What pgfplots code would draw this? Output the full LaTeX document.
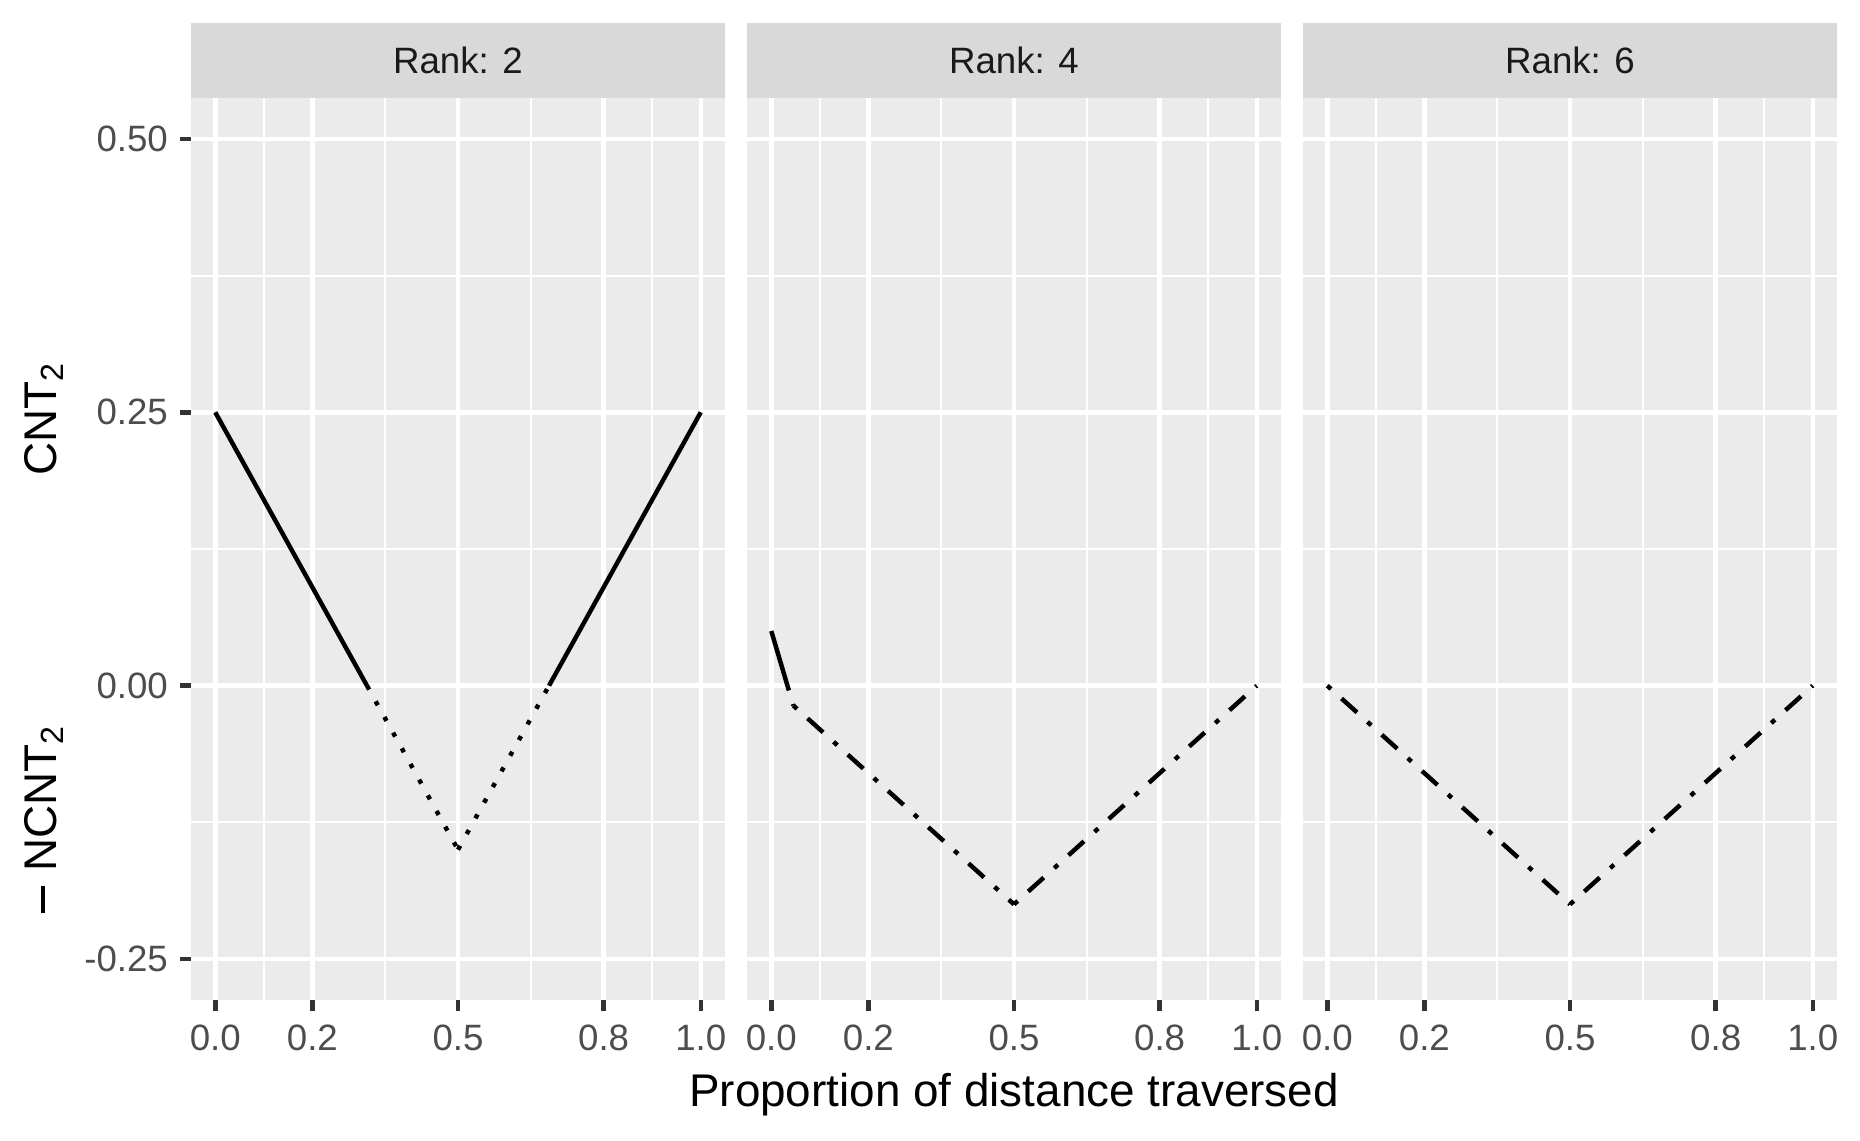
\documentclass[border=0pt]{standalone}
\usepackage{fontspec}
\setmainfont{Liberation Sans}
\usepackage{pgfplots}
\pgfplotsset{compat=1.18}
\definecolor{panelbg}{HTML}{EBEBEB}
\definecolor{stripbg}{HTML}{D9D9D9}
\definecolor{ticklab}{HTML}{4D4D4D}
\definecolor{tickcol}{HTML}{333333}
\definecolor{striptxt}{HTML}{1A1A1A}
\pgfplotsset{
  facet/.style={
    scale only axis, width=128.16pt, height=216.48pt, anchor=south west,
    xmin=-0.05, xmax=1.05, ymin=-0.2875, ymax=0.5375,
    axis background/.style={fill=panelbg},
    axis line style={draw=none},
    xtick={0,0.2,0.5,0.8,1}, xticklabels={0.0,0.2,0.5,0.8,1.0},
    minor xtick={0.1,0.35,0.65,0.9},
    ytick={-0.25,0,0.25,0.5}, yticklabels={-0.25,0.00,0.25,0.50},
    minor ytick={-0.125,0.125,0.375},
    grid=both,
    major grid style={white, line width=1.07pt},
    minor grid style={white, line width=0.53pt},
    tick align=outside, major tick length=2.75pt, minor tick length=0pt,
    tick style={tickcol, line width=1.07pt},
    tick pos=left,
    tick label style={font=\fontsize{8.8}{10}\selectfont, text=ticklab, inner sep=0pt},
    xticklabel style={anchor=north, yshift=-3pt},
    yticklabel style={anchor=east, xshift=-2.6pt},
  },
  solidl/.style={black, line width=1.07pt},
  dottedl/.style={black, line width=1.07pt, dash pattern=on 1.07pt off 3.23pt},
  dotdashl/.style={black, line width=1.07pt, dash pattern=on 1.2pt off 3.4pt on 5pt off 3.4pt},
}
\begin{document}
\begin{tikzpicture}
\useasboundingbox (0,0) rectangle (446.4pt,273.6pt);

% Panel 1: Rank 2
\begin{axis}[facet, at={(45.84pt,33.6pt)}]
\addplot[solidl] coordinates {(0,0.25) (0.3125,0)};
\addplot[dottedl] coordinates {(0.3125,0) (0.5,-0.15)};
\addplot[dottedl] coordinates {(0.5,-0.15) (0.6875,0)};
\addplot[solidl] coordinates {(0.6875,0) (1,0.25)};
\end{axis}

% Panel 2: Rank 4
\begin{axis}[facet, at={(179.28pt,33.6pt)}, yticklabels={}, ytick style={draw=none}]
\addplot[solidl] coordinates {(0,0.05) (0.03333,0)};
\addplot[dotdashl] coordinates {(0.03333,0) (0.04545,-0.01818)};
\addplot[dotdashl] coordinates {(0.04545,-0.01818) (0.5,-0.2)};
\addplot[dotdashl] coordinates {(0.5,-0.2) (1,0)};
\end{axis}

% Panel 3: Rank 6
\begin{axis}[facet, at={(312.72pt,33.6pt)}, yticklabels={}, ytick style={draw=none}]
\addplot[dotdashl] coordinates {(0,0) (0.5,-0.2)};
\addplot[dotdashl] coordinates {(0.5,-0.2) (1,0)};
\end{axis}

% Strips
\foreach \xa/\xb/\xc/\lab in {45.84pt/174pt/109.92pt/2, 179.28pt/307.44pt/243.36pt/4, 312.72pt/440.88pt/376.8pt/6} {
  \fill[stripbg] (\xa,250.08pt) rectangle (\xb,268.08pt);
  \node[text=striptxt, font=\fontsize{8.8}{10}\selectfont, inner sep=0pt]
    at (\xc,259.08pt) {Rank: \lab};
}

% Axis titles
\node[anchor=base, inner sep=0pt, font=\fontsize{11}{13}\selectfont] at (243.36pt,8.16pt)
  {Proportion of distance traversed};
\node[anchor=base, rotate=90, inner sep=0pt, font=\fontsize{11}{13}\selectfont] at (13.6pt,173.16pt)
  {CNT\textsubscript{2}};
\node[anchor=base, rotate=90, inner sep=0pt, font=\fontsize{11}{13}\selectfont] at (13.6pt,77.04pt)
  {\raisebox{2.9pt}{\rule{6.6pt}{0.95pt}}\hspace{3.4pt}NCNT\textsubscript{2}};
\end{tikzpicture}
\end{document}
